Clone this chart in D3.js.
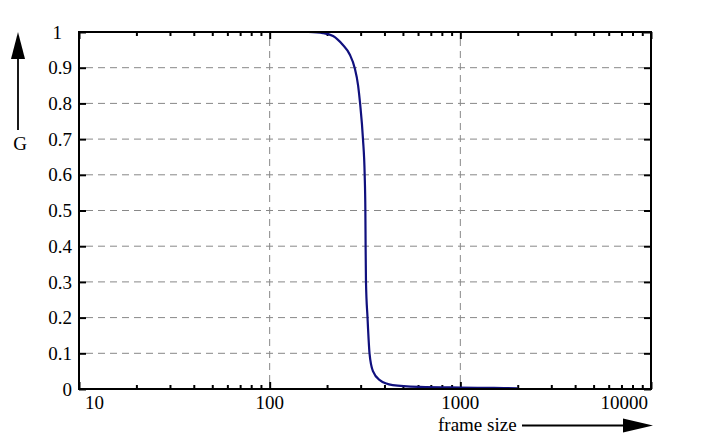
<!DOCTYPE html>
<html>
<head>
<meta charset="utf-8">
<script src="https://cdn.jsdelivr.net/npm/d3@7"></script>
<style>
  body { margin: 0; background: #fff; }
</style>
</head>
<body>
<div id="chart"></div>
<script>
// frame size values and G
const frameSize = [160, 190, 215, 241, 263, 279, 291, 298, 308.6, 315, 317.6, 318.6, 320, 326, 334, 348, 378, 442, 612, 1000, 1500, 2000];
const gValues   = [1.0, 0.997, 0.989, 0.965, 0.937, 0.90, 0.85, 0.80, 0.70, 0.60, 0.50, 0.40, 0.30, 0.20, 0.10, 0.05, 0.025, 0.011, 0.006, 0.004, 0.003, 0.002];

const xTickValues = [10, 100, 1000, 10000];
const xTickLabels = ["10", "100", "1000", "10000"];
const yTickValues = [0, 0.1, 0.2, 0.3, 0.4, 0.5, 0.6, 0.7, 0.8, 0.9, 1];
const yTickLabels = ["0", "0.1", "0.2", "0.3", "0.4", "0.5", "0.6", "0.7", "0.8", "0.9", "1"];

const W = 702, H = 445;
const plot = { left: 79, right: 651, top: 32, bottom: 389 };
const FONT = "Liberation Serif";

const svg = d3.select("#chart").append("svg")
  .attr("width", W).attr("height", H)
  .attr("font-family", FONT)
  .attr("font-size", 19);

const x = d3.scaleLog().domain([10, 10000]).range([plot.left, plot.right]);
const y = d3.scaleLinear().domain([0, 1]).range([plot.bottom, plot.top]);

// grid
svg.append("g").selectAll("line")
  .data(yTickValues.filter(v => v > 0 && v < 1))
  .join("line")
  .attr("x1", plot.left + 7).attr("x2", plot.right - 7)
  .attr("y1", d => y(d)).attr("y2", d => y(d))
  .attr("stroke", "#888").attr("stroke-width", 1).attr("stroke-dasharray", "7,5");

svg.append("g").selectAll("line")
  .data(xTickValues.slice(1, -1))
  .join("line")
  .attr("x1", d => x(d)).attr("x2", d => x(d))
  .attr("y1", plot.top + 7).attr("y2", plot.bottom - 7)
  .attr("stroke", "#888").attr("stroke-width", 1).attr("stroke-dasharray", "7,5");

// minor + major x ticks, bottom and top
const minor = x.ticks().filter(v => !xTickValues.includes(v));
svg.append("g")
  .attr("transform", `translate(0,${plot.bottom})`)
  .call(d3.axisBottom(x).tickValues(minor).tickSize(-4).tickFormat(""))
  .call(g => g.select(".domain").remove());
svg.append("g")
  .attr("transform", `translate(0,${plot.bottom})`)
  .call(d3.axisBottom(x).tickValues(xTickValues).tickSize(-7).tickFormat(""))
  .call(g => g.select(".domain").remove());
svg.append("g")
  .attr("transform", `translate(0,${plot.top})`)
  .call(d3.axisTop(x).tickValues(minor).tickSize(-4).tickFormat(""))
  .call(g => g.select(".domain").remove());
svg.append("g")
  .attr("transform", `translate(0,${plot.top})`)
  .call(d3.axisTop(x).tickValues(xTickValues).tickSize(-7).tickFormat(""))
  .call(g => g.select(".domain").remove());

// y ticks left and right
svg.append("g")
  .attr("transform", `translate(${plot.left},0)`)
  .call(d3.axisLeft(y).tickValues(yTickValues).tickSize(-7).tickFormat(""))
  .call(g => g.select(".domain").remove());
svg.append("g")
  .attr("transform", `translate(${plot.right},0)`)
  .call(d3.axisRight(y).tickValues(yTickValues).tickSize(-7).tickFormat(""))
  .call(g => g.select(".domain").remove());

svg.selectAll(".tick line").attr("stroke", "#000").attr("stroke-width", 2);

// curve
const pts = frameSize.map((f, i) => [f, gValues[i]]);
svg.append("path")
  .datum(pts)
  .attr("fill", "none")
  .attr("stroke", "#10107e")
  .attr("stroke-width", 2.2)
  .attr("d", d3.line().x(d => x(d[0])).y(d => y(d[1])).curve(d3.curveMonotoneX));

// frame
svg.append("rect")
  .attr("x", plot.left).attr("y", plot.top)
  .attr("width", plot.right - plot.left).attr("height", plot.bottom - plot.top)
  .attr("fill", "none").attr("stroke", "#000").attr("stroke-width", 2);

// tick labels
svg.append("g").selectAll("text")
  .data(xTickValues)
  .join("text")
  .attr("x", (d, i) => i === 0 ? x(d) + 6 : i === xTickValues.length - 1 ? x(d) - 3 : x(d))
  .attr("y", 409)
  .attr("text-anchor", (d, i) => i === 0 ? "start" : i === xTickValues.length - 1 ? "end" : "middle")
  .text((d, i) => xTickLabels[i]);

svg.append("g").selectAll("text")
  .data(yTickValues)
  .join("text")
  .attr("x", d => d === 1 ? 62 : 72)
  .attr("y", d => y(d))
  .attr("dy", "0.35em")
  .attr("text-anchor", "end")
  .text((d, i) => yTickLabels[i]);

// y arrow + label
svg.append("line")
  .attr("x1", 18).attr("x2", 18).attr("y1", 130).attr("y2", 56)
  .attr("stroke", "#000").attr("stroke-width", 1.8);
svg.append("path")
  .attr("d", "M18,32 L25,59 L11,59 Z").attr("fill", "#000");
svg.append("text")
  .attr("x", 20).attr("y", 150).attr("text-anchor", "middle").text("G");

// x arrow + label
svg.append("text")
  .attr("x", 438).attr("y", 431).text("frame size");
svg.append("line")
  .attr("x1", 522).attr("x2", 628).attr("y1", 425.5).attr("y2", 425.5)
  .attr("stroke", "#000").attr("stroke-width", 1.8);
svg.append("path")
  .attr("d", "M653,425.5 L623,418.5 L623,432.5 Z").attr("fill", "#000");
</script>
</body>
</html>
